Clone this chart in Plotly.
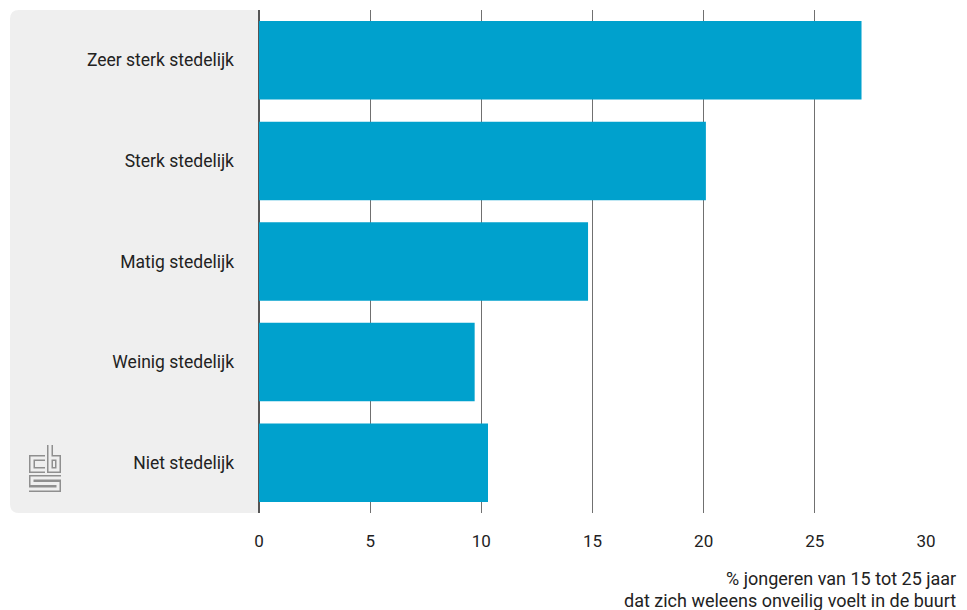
import plotly.graph_objects as go

categories = ["Zeer sterk stedelijk", "Sterk stedelijk", "Matig stedelijk", "Weinig stedelijk", "Niet stedelijk"]
values = [27.1, 20.1, 14.8, 9.7, 10.3]
tick_vals = [0, 5, 10, 15, 20, 25, 30]
axis_title_lines = ["% jongeren van 15 tot 25 jaar", "dat zich weleens onveilig voelt in de buurt"]

W, H = 967, 610
L, R, T, B = 259, 41, 10, 97
PW, PH = W - L - R, H - T - B

def px(x):
    return (x - L) / PW

def py(y):
    return (H - B - y) / PH

fig = go.Figure(go.Bar(
    y=categories, x=values, orientation="h",
    marker=dict(color="#00a1cd", line=dict(width=0)),
    width=0.78, hoverinfo="x+y",
))

shapes = []
# grey label panel with rounded left corners
r = 9
x0, x1, y0, y1 = 10, 259, 10, 513
panel = (f"M {px(x1)},{py(y0)} L {px(x0 + r)},{py(y0)} "
         f"Q {px(x0)},{py(y0)} {px(x0)},{py(y0 + r)} "
         f"L {px(x0)},{py(y1 - r)} Q {px(x0)},{py(y1)} {px(x0 + r)},{py(y1)} "
         f"L {px(x1)},{py(y1)} Z")
shapes.append(dict(type="path", xref="paper", yref="paper", path=panel,
                   fillcolor="#efefef", line=dict(width=0), layer="below"))

# cbs logo (outline effect)
logo_paths = [
    [(45, 458), (32, 458), (32, 470), (45, 470)],
    [(50, 445), (50, 470), (58, 470), (58, 458), (50, 458)],
    [(61, 478), (32, 478), (32, 483.5), (58, 483.5), (58, 489), (29, 489)],
]
for pts in logo_paths:
    d = "M " + " L ".join(f"{px(a)},{py(b)}" for a, b in pts)
    shapes.append(dict(type="path", xref="paper", yref="paper", path=d,
                       line=dict(color="#8f8f8f", width=6)))
for pts in logo_paths:
    d = "M " + " L ".join(f"{px(a)},{py(b)}" for a, b in pts)
    shapes.append(dict(type="path", xref="paper", yref="paper", path=d,
                       line=dict(color="#efefef", width=3)))

annotations = []
for txt, yc in zip(axis_title_lines, [578, 600]):
    annotations.append(dict(text=txt, xref="paper", yref="paper", x=px(958), y=py(yc),
                            xanchor="right", yanchor="middle", showarrow=False,
                            font=dict(size=18, color="#222222")))

fig.update_layout(
    width=W, height=H,
    margin=dict(l=L, r=R, t=T, b=B),
    plot_bgcolor="white", paper_bgcolor="white",
    font=dict(family="Roboto", size=17, color="#222222"),
    showlegend=False,
    bargap=0.22,
    shapes=shapes,
    xaxis=dict(range=[0, 30], tickvals=tick_vals, showgrid=True, gridcolor="#707070",
               gridwidth=1, zeroline=True, zerolinecolor="#555555", zerolinewidth=2,
               showline=False, ticks="", ticklabelstandoff=16, fixedrange=True,
               tickfont=dict(size=17)),
    yaxis=dict(categoryorder="array", categoryarray=categories[::-1], showgrid=False,
               ticks="", ticklabelstandoff=24, showline=False, fixedrange=True,
               tickfont=dict(size=17.5)),
    annotations=annotations,
)

fig.write_html("out.html", config={"displayModeBar": False},
               post_script="document.body.style.margin='0';document.body.style.overflow='hidden';")
